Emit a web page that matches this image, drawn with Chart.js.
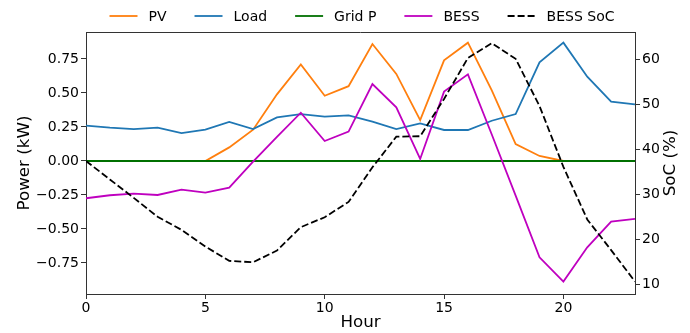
<!DOCTYPE html>
<html>
<head>
<meta charset="utf-8">
<script src="https://cdn.jsdelivr.net/npm/chart.js@4.4.0/dist/chart.umd.min.js"></script>
<style>
  html, body { margin: 0; padding: 0; background: #fff; }
  #wrap { width: 690px; height: 333px; }
</style>
</head>
<body>
<div id="wrap"><canvas id="energyChart" width="690" height="333"></canvas></div>
<script>
// ===== DATA =====
const hours = [0, 1, 2, 3, 4, 5, 6, 7, 8, 9, 10, 11, 12, 13, 14, 15, 16, 17, 18, 19, 20, 21, 22, 23];

const pvKw = [0, 0, 0, 0, 0, 0, 0.10, 0.23, 0.49, 0.71, 0.48, 0.55,
              0.86, 0.64, 0.30, 0.74, 0.87, 0.52, 0.125, 0.037, 0, 0, 0, 0];
const loadKw = [0.26, 0.245, 0.235, 0.245, 0.205, 0.23, 0.287, 0.235, 0.32, 0.345, 0.326, 0.336,
                0.289, 0.235, 0.277, 0.228, 0.228, 0.296, 0.345, 0.726, 0.87, 0.62, 0.436, 0.417];
const gridKw = [0, 0, 0, 0, 0, 0, 0, 0, 0, 0, 0, 0,
                0, 0, 0, 0, 0, 0, 0, 0, 0, 0, 0, 0];
const bessKw = [-0.274, -0.252, -0.24, -0.25, -0.21, -0.233, -0.196, -0.005, 0.178, 0.355, 0.147, 0.216,
                0.566, 0.395, 0.015, 0.51, 0.637, 0.195, -0.255, -0.708, -0.887, -0.635, -0.446, -0.426];
const bessSoc = [37.4, 33.3, 29.2, 25.0, 22.1, 18.4, 15.2, 14.9, 17.5, 22.7, 24.9, 28.3,
                 36.0, 42.8, 42.9, 51.2, 60.3, 63.6, 60.1, 49.6, 36.1, 24.4, 17.6, 10.6];

const hourTicks = [0, 5, 10, 15, 20];
const powerTicks = [-0.75, -0.5, -0.25, 0, 0.25, 0.5, 0.75];
const socTicks = [10, 20, 30, 40, 50, 60];

// ===== STYLE =====
const FONT = 'DejaVu Sans';
Chart.defaults.font.family = FONT;
Chart.defaults.color = '#000';

const minus = s => s.replace('-', '\u2212');
const setTicks = list => scale => { scale.ticks = list.map(v => ({ value: v })); };

const axisGrid = { display: true, drawOnChartArea: false, drawTicks: true, tickLength: 5, color: '#333', lineWidth: 1 };
const axisBorder = { display: true, color: '#333', width: 1 };

// matplotlib-like legend row above the plot
const mplLegend = {
  id: 'mplLegend',
  afterDraw(chart) {
    const ctx = chart.ctx;
    const handle = 28, textPad = 11, colGap = 28, y = 16;
    ctx.save();
    ctx.font = '14px "' + FONT + '"';
    const items = chart.data.datasets.map(ds => ({ ds, w: ctx.measureText(ds.label).width }));
    const total = items.reduce((s, it) => s + handle + textPad + it.w, 0) + colGap * (items.length - 1);
    let x = 362 - total / 2;
    items.forEach(({ ds, w }) => {
      ctx.strokeStyle = ds.borderColor;
      ctx.lineWidth = ds.borderWidth;
      ctx.setLineDash(ds.borderDash || []);
      ctx.beginPath();
      ctx.moveTo(x, y);
      ctx.lineTo(x + handle, y);
      ctx.stroke();
      ctx.setLineDash([]);
      ctx.fillStyle = '#000';
      ctx.textBaseline = 'middle';
      ctx.textAlign = 'left';
      ctx.fillText(ds.label, x + handle + textPad, y + 1);
      x += handle + textPad + w + colGap;
    });
    ctx.restore();
  }
};

// top spine + right axis title (reads bottom-to-top like matplotlib)
const frameExtras = {
  id: 'frameExtras',
  afterDraw(chart) {
    const ctx = chart.ctx, area = chart.chartArea;
    ctx.save();
    ctx.strokeStyle = '#333';
    ctx.lineWidth = 1;
    ctx.beginPath();
    ctx.moveTo(area.left, area.top + 0.5);
    ctx.lineTo(area.right, area.top + 0.5);
    ctx.stroke();
    ctx.font = '16.7px "' + FONT + '"';
    ctx.fillStyle = '#000';
    ctx.textAlign = 'center';
    ctx.textBaseline = 'middle';
    ctx.translate(671, (area.top + area.bottom) / 2);
    ctx.rotate(-Math.PI / 2);
    ctx.fillText('SoC (%)', 0, 0);
    ctx.restore();
  }
};

new Chart(document.getElementById('energyChart'), {
  type: 'line',
  data: {
    labels: hours,
    datasets: [
      { label: 'PV', data: pvKw, borderColor: '#ff7f0e', borderWidth: 1.8, yAxisID: 'y', order: 5 },
      { label: 'Load', data: loadKw, borderColor: '#1f77b4', borderWidth: 1.8, yAxisID: 'y', order: 4 },
      { label: 'Grid P', data: gridKw, borderColor: '#007000', borderWidth: 1.8, yAxisID: 'y', order: 3 },
      { label: 'BESS', data: bessKw, borderColor: '#bf00bf', borderWidth: 1.8, yAxisID: 'y', order: 2 },
      { label: 'BESS SoC', data: bessSoc, borderColor: '#000', borderWidth: 1.8, borderDash: [7, 3], yAxisID: 'y2', order: 1 }
    ]
  },
  options: {
    responsive: false,
    animation: false,
    devicePixelRatio: 1,
    layout: { padding: { top: 32, left: 0, right: 0, bottom: 0 } },
    elements: { point: { radius: 0 }, line: { tension: 0, fill: false } },
    plugins: { legend: { display: false }, tooltip: { enabled: false } },
    scales: {
      x: {
        type: 'linear', min: 0, max: 23,
        afterBuildTicks: setTicks(hourTicks),
        afterFit: s => { s.height = 39; },
        ticks: { font: { size: 14 }, padding: 1, maxRotation: 0, autoSkip: false },
        grid: axisGrid, border: axisBorder,
        title: { display: true, text: 'Hour', font: { size: 16.7, lineHeight: 1.2 }, padding: { top: 0, bottom: 0 } }
      },
      y: {
        position: 'left', min: -0.978, max: 0.9485,
        afterBuildTicks: setTicks(powerTicks),
        afterFit: s => { s.width = 86; },
        ticks: { font: { size: 14 }, padding: 2, callback: v => minus(v.toFixed(2)) },
        grid: axisGrid, border: axisBorder,
        title: { display: true, text: 'Power (kW)', font: { size: 16.7, lineHeight: 1.2 }, padding: { top: 15, bottom: 0 } }
      },
      y2: {
        position: 'right', min: 7.84, max: 66.07,
        afterBuildTicks: setTicks(socTicks),
        afterFit: s => { s.width = 55; },
        ticks: { font: { size: 14 }, padding: 2, callback: v => String(v) },
        grid: axisGrid, border: axisBorder
      }
    }
  },
  plugins: [mplLegend, frameExtras]
});
</script>
</body>
</html>
